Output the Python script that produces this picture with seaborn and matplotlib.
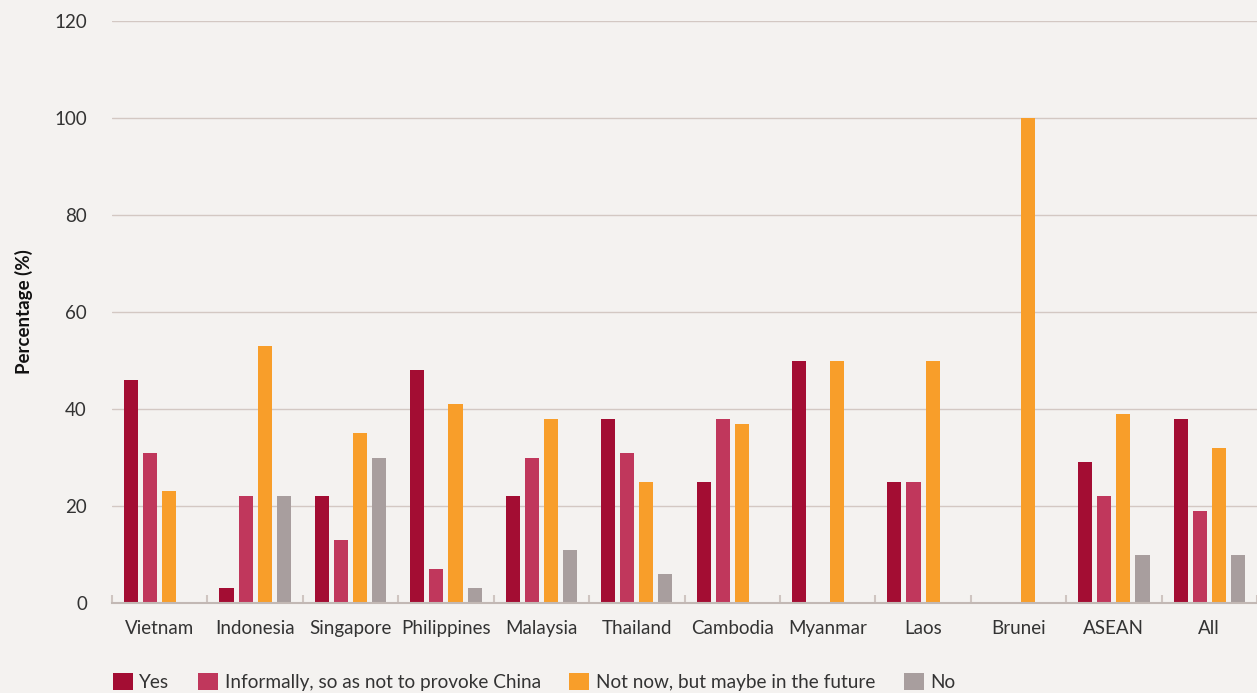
import pandas as pd
import matplotlib.pyplot as plt
import seaborn as sns

# ==============================
# DATA
# ==============================

countries = ["Vietnam", "Indonesia", "Singapore", "Philippines", "Malaysia",
             "Thailand", "Cambodia", "Myanmar", "Laos", "Brunei", "ASEAN", "All"]
answers = ["Yes", "Informally, so as not to provoke China",
           "Not now, but maybe in the future", "No"]

yes = [46, 3, 22, 48, 22, 38, 25, 50, 25, 0, 29, 38]
informally = [31, 22, 13, 7, 30, 31, 38, 0, 25, 0, 22, 19]
not_now = [23, 53, 35, 41, 38, 25, 37, 50, 50, 100, 39, 32]
no = [0, 22, 30, 3, 11, 6, 0, 0, 0, 0, 10, 10]

colors = ["#A30D33", "#C0375C", "#F89E2A", "#A89E9E"]

rows = []
for name, vals in zip(answers, [yes, informally, not_now, no]):
    for c, v in zip(countries, vals):
        rows.append({"country": c, "answer": name, "pct": v})
df = pd.DataFrame(rows)

# ==============================
# PLOT
# ==============================

bg = "#F4F2F0"
sns.set_style("white")
plt.rcParams["font.family"] = ["Lato", "DejaVu Sans"]

fig = plt.figure(figsize=(12.57, 6.93), dpi=100, facecolor=bg)
ax = fig.add_axes([112 / 1257, 1 - 603 / 693, 1 - 112 / 1257, (603 - 21) / 693])
ax.set_facecolor(bg)

sns.barplot(data=df, x="country", y="pct", hue="answer", hue_order=answers,
            palette=colors, width=0.8, gap=0.26, saturation=1, linewidth=0,
            ax=ax)

ax.set_ylim(0, 120)
ax.set_xlim(-0.5, len(countries) - 0.5)
ax.set_yticks(range(0, 121, 20))
ax.yaxis.grid(True, color="#D3C8C3", lw=1)
ax.set_axisbelow(True)
for s in ["top", "right", "left"]:
    ax.spines[s].set_visible(False)
ax.spines["bottom"].set_color("#C2B8B4")
ax.spines["bottom"].set_linewidth(1.5)

ax.tick_params(axis="y", length=0, pad=18, labelsize=13.5, labelcolor="#333333")
ax.set_xticks(range(len(countries)), countries)
ax.set_xticks([i - 0.5 for i in range(len(countries) + 1)], minor=True)
ax.tick_params(axis="x", which="major", length=0, pad=12, labelsize=13.5,
               labelcolor="#333333")
ax.tick_params(axis="x", which="minor", bottom=True, direction="in", length=6,
               color="#CFC5C1", width=1.5)

ax.set_xlabel("")
ax.set_ylabel("Percentage (%)", fontsize=13.5, fontweight="bold", color="#111111",
              labelpad=15)

handles, labels = ax.get_legend_handles_labels()
ax.legend_.remove()
fig.legend(handles, labels, ncol=4, loc="center left",
           bbox_to_anchor=(109 / 1257, 1 - 682 / 693), frameon=False,
           fontsize=13.7, handlelength=1.05, handleheight=1.05, handletextpad=0.35,
           columnspacing=1.5, labelcolor="#333333", borderaxespad=0,
           borderpad=0.2)

fig.savefig("out.png", dpi=100, facecolor=bg)
